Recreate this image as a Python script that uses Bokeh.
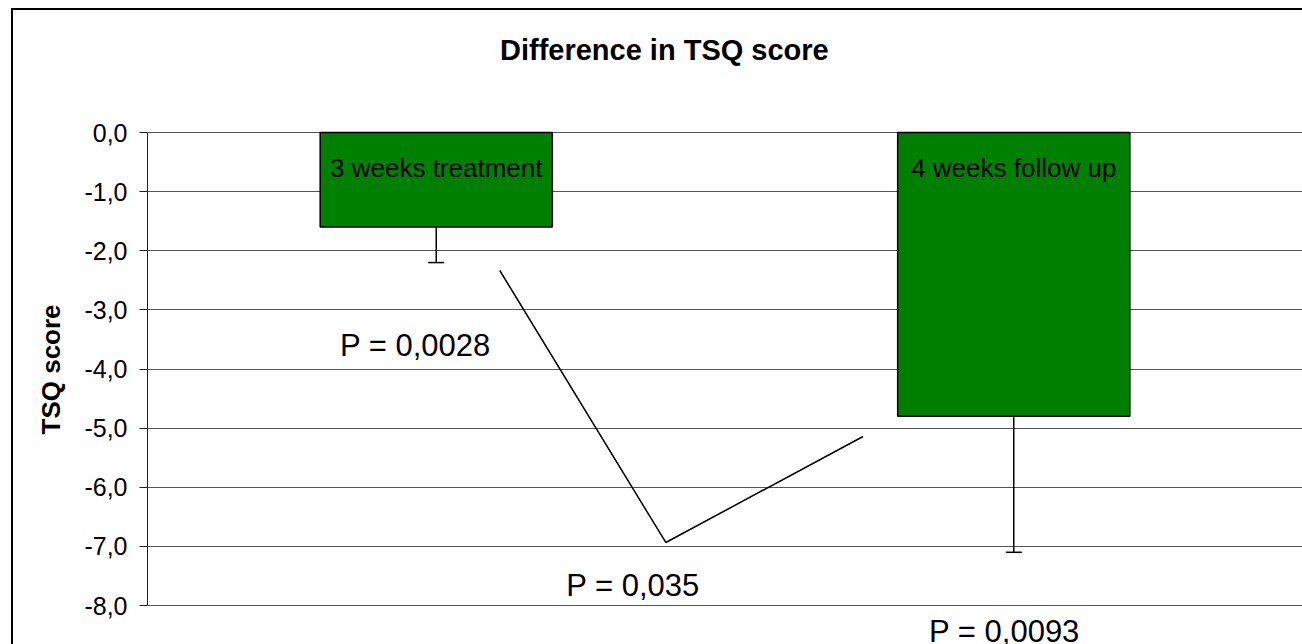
from bokeh.plotting import figure
from bokeh.models import (FactorRange, Range1d, ColumnDataSource, Whisker, TeeHead,
                          Label, CustomJSTickFormatter, FixedTicker, InlineStyleSheet)
from bokeh.core.properties import value
from bokeh.embed import file_html
from bokeh.resources import INLINE

# ---- data ----
categories = ["3 weeks treatment", "4 weeks follow up"]
mean_diff = [-1.6, -4.8]
sd = [0.6, 2.3]
y_ticks = [0, -1, -2, -3, -4, -5, -6, -7, -8]
p_texts = ["P = 0,0028", "P = 0,035", "P = 0,0093"]
title_text = "Difference in TSQ score"
y_label = "TSQ score"

# ---- annotation positions (synthetic category coordinates / data y) ----
p_x = [0.464, 0.8407, 1.484]
p_y = [-3.595, -7.67, -8.448]
connector_x = [0.610, 0.8975, 1.239]
connector_y = [-2.334, -6.934, -5.142]
bar_label_y = -0.594
title_x, title_y = 0.895, 1.387

FONT = "Liberation Sans"
NBSP = "\u00a0"

lower = [m - s for m, s in zip(mean_diff, sd)]
src = ColumnDataSource(dict(cat=categories, val=mean_diff, lower=lower,
                            label_y=[bar_label_y] * len(categories)))

p = figure(width=1302, height=644, output_backend="svg", toolbar_location=None,
           x_range=FactorRange(*categories), y_range=Range1d(-8.6596, 2.2326),
           min_border_left=147, min_border_right=0, min_border_top=0,
           min_border_bottom=0)
p.outline_line_color = None
p.background_fill_color = "white"
p.border_fill_color = "white"
p.stylesheets = [InlineStyleSheet(css="""
:host { position: relative; }
:host::after { content: ""; position: absolute; left: 11px; top: 8px; right: 0; bottom: 0;
  border-left: 2px solid #000; border-top: 2px solid #000; pointer-events: none; z-index: 10; }
""")]

p.xaxis.visible = False
p.xgrid.visible = False
p.ygrid.grid_line_color = "#555555"
p.ygrid.grid_line_width = 1
p.yaxis.ticker = FixedTicker(ticks=y_ticks)
p.ygrid.ticker = FixedTicker(ticks=y_ticks)
p.yaxis.bounds = (min(y_ticks), max(y_ticks))
p.yaxis.formatter = CustomJSTickFormatter(code="return tick.toFixed(1).replace('.', ',');")
p.yaxis.major_tick_out = 8
p.yaxis.major_tick_in = 0
p.yaxis.minor_tick_line_color = None
p.yaxis.axis_line_color = "#222222"
p.yaxis.major_tick_line_color = "#222222"
p.yaxis.major_label_standoff = 12
p.yaxis.major_label_text_font = FONT
p.yaxis.major_label_text_font_size = "25px"
p.yaxis.major_label_text_color = "black"
# trailing no-break spaces centre the rotated label on the -8..0 span instead of the full frame
p.yaxis.axis_label = y_label + NBSP * 13
p.yaxis.axis_label_text_font = FONT
p.yaxis.axis_label_text_font_size = "26px"
p.yaxis.axis_label_text_font_style = "bold"
p.yaxis.axis_label_text_color = "black"
p.yaxis.axis_label_standoff = 15

p.vbar(x="cat", top=0, bottom="val", width=0.402, source=src,
       fill_color="#008000", line_color="black", line_width=1.5)

w = Whisker(base="cat", upper="val", lower="lower", source=src, dimension="height",
            line_color="black", line_width=1.5, upper_head=None,
            lower_head=TeeHead(size=16, line_color="black", line_width=1.5))
p.add_layout(w)

p.text(x="cat", y="label_y", text="cat", source=src, text_align="center",
       text_baseline="alphabetic", text_font=value(FONT), text_font_size="26px",
       text_color="black")

p.line(connector_x, connector_y, line_color="black", line_width=1.5)

for t, x, y in zip(p_texts, p_x, p_y):
    p.add_layout(Label(x=x, y=y, text=t, text_align="center", text_baseline="alphabetic",
                       text_font=FONT, text_font_size="31px", text_color="black"))

p.add_layout(Label(x=title_x, y=title_y, text=title_text, text_align="center",
                   text_baseline="alphabetic", text_font=FONT, text_font_size="29px",
                   text_font_style="bold", text_color="black"))

open("out.html", "w").write(file_html(p, INLINE))
